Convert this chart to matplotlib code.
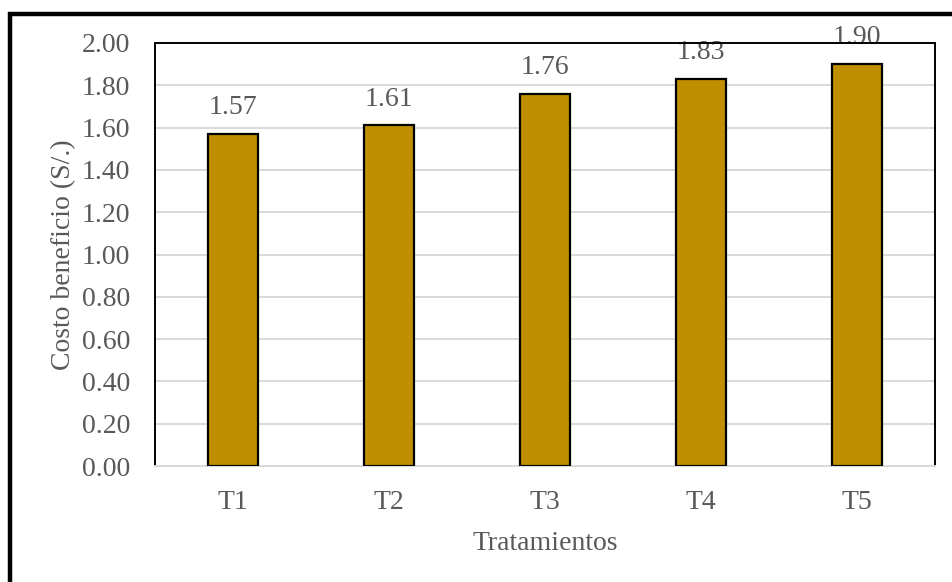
import matplotlib.pyplot as plt
from matplotlib.patches import Rectangle

tratamientos = ["T1", "T2", "T3", "T4", "T5"]
costo_beneficio = [1.57, 1.61, 1.76, 1.83, 1.90]
yticks = [0.0, 0.2, 0.4, 0.6, 0.8, 1.0, 1.2, 1.4, 1.6, 1.8, 2.0]

plt.rcParams["font.family"] = ["Liberation Serif", "DejaVu Serif"]
gris = "#595959"
fs = 20

W, H = 952, 582
fig = plt.figure(figsize=(W / 100, H / 100), dpi=100)
ax = fig.add_axes([155 / W, 1 - 466 / H, 780 / W, 423 / H])

# outer frame, only left and top edges are visible
fig.patches.append(Rectangle((9.5 / W, -0.1), 1.2, 1 - 14 / H + 0.1,
                             transform=fig.transFigure, fill=False,
                             edgecolor="black", linewidth=3.2))

x = range(len(tratamientos))
bars = ax.bar(x, costo_beneficio, width=0.315, color="#BF8F00",
              edgecolor="black", linewidth=1.6, zorder=3)
for b, v in zip(bars, costo_beneficio):
    ax.annotate(f"{v:.2f}", (b.get_x() + b.get_width() / 2, v),
                xytext=(0, 19), textcoords="offset points",
                ha="center", va="center", fontsize=fs, color=gris,
                zorder=1)

ax.set_xlim(-0.5, len(tratamientos) - 0.5)
ax.set_ylim(0, 2.0)
ax.set_yticks(yticks)
ax.set_yticklabels([f"{t:.2f}" for t in yticks])
ax.set_xticks(list(x))
ax.set_xticklabels(tratamientos)
ax.tick_params(axis="both", length=0, labelsize=fs, labelcolor=gris)
ax.tick_params(axis="y", pad=18)
ax.tick_params(axis="x", pad=17)
ax.yaxis.grid(True, color="#d9d9d9", linewidth=1.4, zorder=0)
ax.set_axisbelow(True)

for s in ("left", "top", "right"):
    ax.spines[s].set_color("black")
    ax.spines[s].set_linewidth(1.4)
ax.spines["bottom"].set_color("#d9d9d9")
ax.spines["bottom"].set_linewidth(1.4)

ax.set_xlabel("Tratamientos", fontsize=fs, color=gris, labelpad=12)
ax.set_ylabel("Costo beneficio (S/.)", fontsize=fs, color=gris, labelpad=4)

fig.savefig("out.png", dpi=100)
